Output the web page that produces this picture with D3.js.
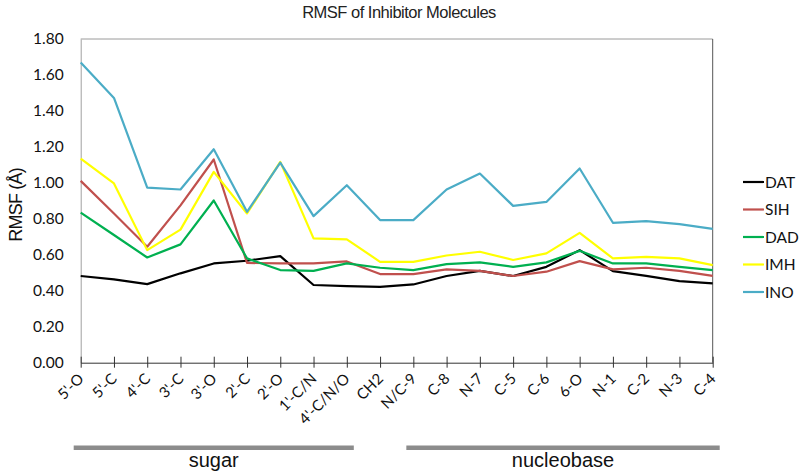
<!DOCTYPE html>
<html>
<head>
<meta charset="utf-8">
<script src="https://cdn.jsdelivr.net/npm/d3@7"></script>
<style>
  html, body { margin: 0; padding: 0; background: #fff; }
  svg { display: block; }
</style>
</head>
<body>
<svg id="chart" width="800" height="476"></svg>
<script>
const categories = ["5'-O","5'-C","4'-C","3'-C","3'-O","2'-C","2'-O","1'-C/N","4'-C/N/O","CH2","N/C-9","C-8","N-7","C-5","C-6","6-O","N-1","C-2","N-3","C-4"];
const seriesNames = ["DAT","SIH","DAD","IMH","INO"];
const DAT = [0.482,0.463,0.437,0.497,0.552,0.567,0.593,0.432,0.426,0.422,0.435,0.482,0.511,0.482,0.533,0.626,0.509,0.483,0.454,0.441];
const SIH = [1.011,0.83,0.645,0.875,1.13,0.555,0.552,0.552,0.563,0.493,0.493,0.519,0.511,0.482,0.506,0.565,0.519,0.528,0.511,0.483];
const DAD = [0.835,0.71,0.585,0.658,0.902,0.58,0.515,0.511,0.552,0.528,0.515,0.548,0.558,0.533,0.558,0.622,0.552,0.552,0.533,0.515];
const IMH = [1.135,0.997,0.626,0.74,1.061,0.83,1.117,0.691,0.686,0.561,0.561,0.596,0.617,0.571,0.608,0.722,0.58,0.589,0.58,0.543];
const INO = [1.669,1.472,0.974,0.963,1.187,0.839,1.113,0.815,0.987,0.793,0.793,0.963,1.052,0.872,0.894,1.08,0.778,0.787,0.771,0.744];
const yTicks = [0,0.2,0.4,0.6,0.8,1.0,1.2,1.4,1.6,1.8];
const groups = [
  {label: "sugar", from: "5'-O", to: "4'-C/N/O"},
  {label: "nucleobase", from: "N/C-9", to: "C-4"}
];
const colors = {DAT: "#000000", SIH: "#C0504D", DAD: "#00B050", IMH: "#FFFF00", INO: "#4BACC6"};
const seriesData = {DAT, SIH, DAD, IMH, INO};

const svg = d3.select("#chart");
const mLeft = 80.7, mRight = 712.7, mTop = 39, mBottom = 362.7;

const x = d3.scalePoint().domain(categories).range([mLeft, mRight]).padding(0);
const y = d3.scaleLinear().domain([0, 1.8]).range([mBottom, mTop]);

const tickFont = "Lato, 'Open Sans', 'Liberation Sans', sans-serif";

// frame
svg.append("line").attr("x1", mLeft).attr("x2", mRight).attr("y1", mTop).attr("y2", mTop)
  .attr("stroke", "#9a9a9a").attr("stroke-width", 1);
svg.append("line").attr("x1", mRight).attr("x2", mRight).attr("y1", mTop).attr("y2", mBottom)
  .attr("stroke", "#555").attr("stroke-width", 1);

// y axis
const yAxis = d3.axisLeft(y).tickValues(yTicks).tickFormat(d3.format(".2f")).tickSize(0).tickPadding(17);
const yg = svg.append("g").attr("transform", `translate(${mLeft},0)`).call(yAxis);
yg.select(".domain").attr("stroke", "#a0a0a0");
yg.selectAll("text").attr("font-family", tickFont).attr("font-size", 15.5).attr("fill", "#111");

// x axis
const xAxis = d3.axisBottom(x).tickSizeInner(5).tickSizeOuter(0).tickFormat(() => "");
const xg = svg.append("g").attr("transform", `translate(0,${mBottom})`).call(xAxis);
xg.select(".domain").attr("stroke", "#333");
xg.selectAll(".tick line").attr("y1", -6).attr("y2", 5).attr("stroke", "#333");

// x labels rotated
svg.append("g").selectAll("text").data(categories).join("text")
  .attr("transform", d => `translate(${x(d) + 4},${mBottom + 17}) rotate(-45)`)
  .attr("text-anchor", "end")
  .attr("font-family", tickFont).attr("font-size", 15).attr("fill", "#111")
  .text(d => d);

// lines
const line = d3.line().x((d, i) => x(categories[i])).y(d => y(d));
seriesNames.forEach(name => {
  svg.append("path").datum(seriesData[name])
    .attr("fill", "none").attr("stroke", colors[name]).attr("stroke-width", 2.2)
    .attr("stroke-linejoin", "round")
    .attr("d", line);
});

// title
svg.append("text").attr("x", 399).attr("y", 18).attr("text-anchor", "middle")
  .attr("font-family", "'Liberation Sans', Arial, sans-serif").attr("font-size", 16.5)
  .attr("letter-spacing", -0.5).attr("fill", "#222")
  .text("RMSF of Inhibitor Molecules");

// y label
svg.append("text").attr("transform", `translate(22,${(mTop + mBottom) / 2 + 4}) rotate(-90)`)
  .attr("text-anchor", "middle")
  .attr("font-family", "'Liberation Sans', Arial, sans-serif").attr("font-size", 18)
  .attr("letter-spacing", -0.8).attr("fill", "#111")
  .text("RMSF (Å)");

// legend
const lg = svg.append("g");
seriesNames.forEach((name, i) => {
  const ly = 182 + i * 27.5;
  lg.append("line").attr("x1", 743).attr("x2", 764).attr("y1", ly).attr("y2", ly)
    .attr("stroke", colors[name]).attr("stroke-width", 2.2);
  lg.append("text").attr("x", 765).attr("y", ly + 5.5)
    .attr("font-family", tickFont).attr("font-size", 15.5).attr("fill", "#111")
    .text(name);
});

// group bars
groups.forEach(g => {
  const x0 = x(g.from) - 7, x1 = x(g.to) + 7;
  svg.append("rect").attr("x", x0).attr("y", 445.5).attr("width", x1 - x0).attr("height", 4.5)
    .attr("fill", "#8c8c8c");
  svg.append("text").attr("x", (x0 + x1) / 2).attr("y", 466.5).attr("text-anchor", "middle")
    .attr("font-family", "'Liberation Sans', Arial, sans-serif").attr("font-size", 20).attr("fill", "#111")
    .text(g.label);
});
</script>
</body>
</html>
